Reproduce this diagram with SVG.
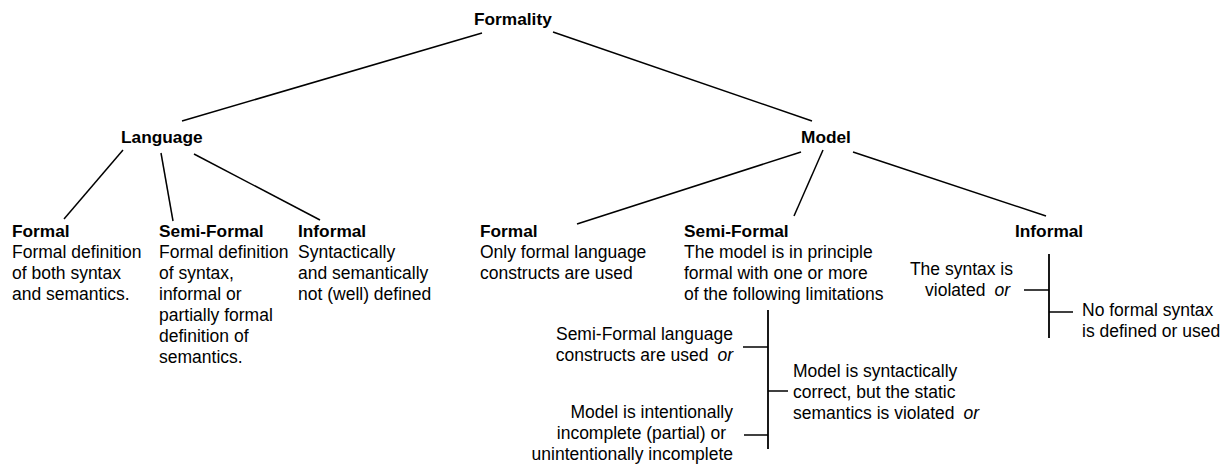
<svg xmlns="http://www.w3.org/2000/svg" width="1225" height="467" viewBox="0 0 1225 467">
<style>
text{font-family:"Liberation Sans",Arial,sans-serif;fill:#000;font-size:17.5px}
.h{font-weight:bold;font-size:17.3px}
.e{text-anchor:end}
.i{font-style:italic}
.c line{stroke:#000;stroke-width:1.5;stroke-linecap:butt}
.c .v{stroke-width:1.8}
</style>
<rect width="1225" height="467" fill="#fff"/>
<g class="c" id="connectors">
<line x1="482" y1="33" x2="182" y2="121"/>
<line x1="553" y1="32" x2="812" y2="121"/>
<line x1="123" y1="150" x2="64" y2="219"/>
<line x1="161" y1="153" x2="173" y2="221"/>
<line x1="194" y1="154" x2="320" y2="220"/>
<line x1="801" y1="152" x2="577" y2="224"/>
<line x1="823" y1="150" x2="794" y2="216"/>
<line x1="853" y1="152" x2="1046" y2="216"/>
<line class="v" x1="768" y1="310" x2="768" y2="449"/>
<line x1="743" y1="347" x2="768" y2="347"/>
<line x1="744" y1="435" x2="768" y2="435"/>
<line x1="768" y1="391" x2="788" y2="391"/>
<line class="v" x1="1049" y1="254" x2="1049" y2="338"/>
<line x1="1024" y1="290" x2="1049" y2="290"/>
<line x1="1049" y1="312" x2="1073" y2="312"/>
</g>
<g id="formality"><text class="h" x="474" y="25">Formality</text></g>
<g id="language"><text class="h" x="121" y="143">Language</text></g>
<g id="model"><text class="h" x="801" y="143">Model</text></g>
<g id="lang-formal">
<text class="h" x="12" y="237">Formal</text>
<text x="12" y="258">Formal definition</text>
<text x="12" y="279">of both syntax</text>
<text x="12" y="300">and semantics.</text>
</g>
<g id="lang-semi">
<text class="h" x="159" y="237">Semi-Formal</text>
<text x="159" y="258">Formal definition</text>
<text x="159" y="279">of syntax,</text>
<text x="159" y="300">informal or</text>
<text x="159" y="321">partially formal</text>
<text x="159" y="342">definition of</text>
<text x="159" y="363">semantics.</text>
</g>
<g id="lang-informal">
<text class="h" x="298" y="237">Informal</text>
<text x="298" y="258">Syntactically</text>
<text x="298" y="279">and semantically</text>
<text x="298" y="300">not (well) defined</text>
</g>
<g id="model-formal">
<text class="h" x="480" y="237">Formal</text>
<text x="480" y="258">Only formal language</text>
<text x="480" y="279">constructs are used</text>
</g>
<g id="model-semi">
<text class="h" x="684" y="237">Semi-Formal</text>
<text x="684" y="258">The model is in principle</text>
<text x="684" y="279">formal with one or more</text>
<text x="684" y="300">of the following limitations</text>
</g>
<g id="semi-lang-constructs">
<text class="e" x="733" y="340">Semi-Formal language</text>
<text class="e" x="733" y="361">constructs are used<tspan class="i" dx="9">or</tspan></text>
</g>
<g id="semi-static">
<text x="793" y="377">Model is syntactically</text>
<text x="793" y="398">correct, but the static</text>
<text x="793" y="419">semantics is violated<tspan class="i" dx="9">or</tspan></text>
</g>
<g id="semi-incomplete">
<text class="e" x="733" y="418">Model is intentionally</text>
<text class="e" x="726" y="439">incomplete (partial) or</text>
<text class="e" x="733" y="460">unintentionally incomplete</text>
</g>
<g id="model-informal">
<text class="h" x="1015" y="237">Informal</text>
</g>
<g id="informal-violated">
<text class="e" x="1013" y="275">The syntax is</text>
<text class="e" x="1010" y="296">violated<tspan class="i" dx="9">or</tspan></text>
</g>
<g id="informal-nosyntax">
<text x="1082" y="316">No formal syntax</text>
<text x="1082" y="337">is defined or used</text>
</g>
</svg>
